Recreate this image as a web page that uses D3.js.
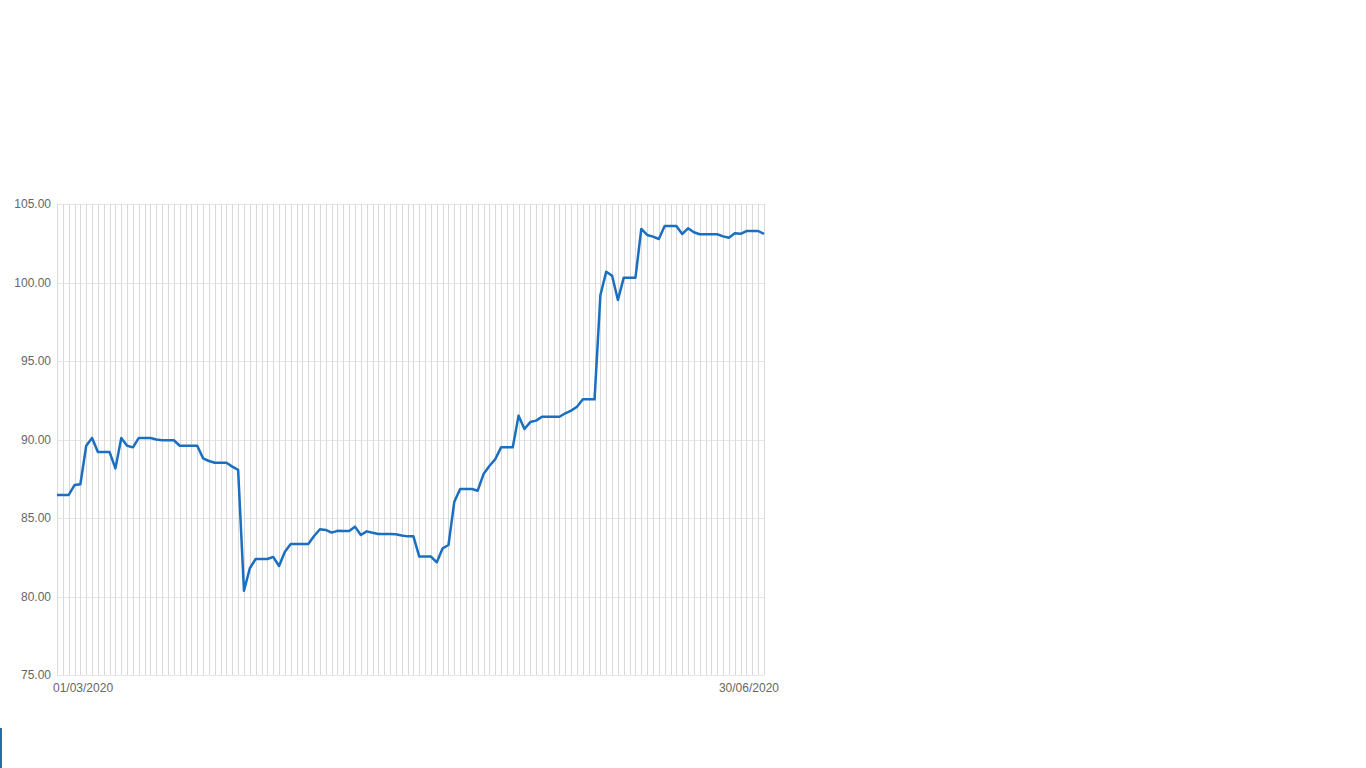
<!DOCTYPE html>
<html>
<head>
<meta charset="utf-8">
<script src="https://cdn.jsdelivr.net/npm/d3@7"></script>
<style>
  html, body { margin: 0; padding: 0; background: #fff; }
  svg { display: block; }
</style>
</head>
<body>
<svg id="chart" width="1366" height="768"></svg>
<script>
const startDate = "2020-03-01";
const endDate = "2020-06-30";
const xTickLabels = ["01/03/2020", "30/06/2020"];
const yTicks = [75, 80, 85, 90, 95, 100, 105];
const values = [
  86.47, 86.47, 86.47, 87.10, 87.15, 89.60, 90.10, 89.20, 89.20, 89.20,
  88.16, 90.10, 89.60, 89.50, 90.10, 90.10, 90.10, 90.00, 89.95, 89.95,
  89.95, 89.60, 89.60, 89.60, 89.60, 88.80, 88.63, 88.52, 88.52, 88.52,
  88.27, 88.06, 80.37, 81.80, 82.39, 82.39, 82.39, 82.52, 81.94, 82.85,
  83.34, 83.34, 83.34, 83.34, 83.85, 84.28, 84.24, 84.07, 84.18, 84.17,
  84.17, 84.45, 83.92, 84.15, 84.06, 83.98, 83.98, 83.98, 83.96, 83.88,
  83.83, 83.83, 82.54, 82.54, 82.54, 82.18, 83.07, 83.28, 86.04, 86.85,
  86.85, 86.85, 86.74, 87.80, 88.31, 88.74, 89.50, 89.50, 89.50, 91.52,
  90.67, 91.11, 91.20, 91.45, 91.45, 91.45, 91.45, 91.67, 91.84, 92.09,
  92.56, 92.56, 92.56, 99.20, 100.69, 100.43, 98.89, 100.31, 100.31, 100.31,
  103.41, 103.03, 102.92, 102.77, 103.60, 103.60, 103.60, 103.09, 103.45, 103.20,
  103.07, 103.07, 103.07, 103.07, 102.94, 102.85, 103.13, 103.10, 103.28, 103.28,
  103.28, 103.09
];

(function () {
  const parse = d3.timeParse("%Y-%m-%d");
  const d0 = parse(startDate), d1 = parse(endDate);
  const dates = d3.timeDay.range(d0, d3.timeDay.offset(d1, 1));
  const data = dates.map((d, i) => ({ date: d, value: values[i] }));

  const svg = d3.select("#chart");
  const mLeft = 57, mRight = 764, mTop = 204, mBottom = 675;

  const x = d3.scaleTime().domain([d0, d1]).range([mLeft, mRight]);
  const y = d3.scaleLinear().domain([75, 105]).range([mBottom, mTop]);

  // horizontal grid
  svg.append("g")
    .selectAll("line").data(yTicks).join("line")
    .attr("x1", mLeft).attr("x2", mRight)
    .attr("y1", d => Math.round(y(d)) + 0.5).attr("y2", d => Math.round(y(d)) + 0.5)
    .attr("stroke", "#e6e6e6").attr("stroke-width", 1);

  // vertical grid (one per day)
  svg.append("g")
    .selectAll("line").data(dates).join("line")
    .attr("x1", d => Math.round(x(d)) + 0.5).attr("x2", d => Math.round(x(d)) + 0.5)
    .attr("y1", mTop).attr("y2", mBottom)
    .attr("stroke", "#d9d9d9").attr("stroke-width", 1);

  // y labels
  svg.append("g")
    .selectAll("text").data(yTicks).join("text")
    .attr("x", 51).attr("y", d => y(d))
    .attr("dy", "0.35em")
    .attr("text-anchor", "end")
    .attr("font-family", "Liberation Sans, Arial, sans-serif")
    .attr("font-size", 12)
    .attr("fill", "#666")
    .text(d => d3.format(".2f")(d));

  // x labels
  svg.append("text")
    .attr("x", x(d0) - 4).attr("y", 692)
    .attr("text-anchor", "start")
    .attr("font-family", "Liberation Sans, Arial, sans-serif")
    .attr("font-size", 12).attr("fill", "#666")
    .text(xTickLabels[0]);
  svg.append("text")
    .attr("x", x(d1) + 15).attr("y", 692)
    .attr("text-anchor", "end")
    .attr("font-family", "Liberation Sans, Arial, sans-serif")
    .attr("font-size", 12).attr("fill", "#666")
    .text(xTickLabels[1]);

  // line
  const line = d3.line().x(d => x(d.date)).y(d => y(d.value));
  svg.append("path")
    .datum(data)
    .attr("d", line)
    .attr("fill", "none")
    .attr("stroke", "#1a6fc0")
    .attr("stroke-width", 2.5)
    .attr("stroke-linejoin", "round");

  // small edge mark bottom-left
  svg.append("rect")
    .attr("x", 0).attr("y", 728).attr("width", 2).attr("height", 40)
    .attr("fill", "#1a6fb0");
})();
</script>
</body>
</html>
